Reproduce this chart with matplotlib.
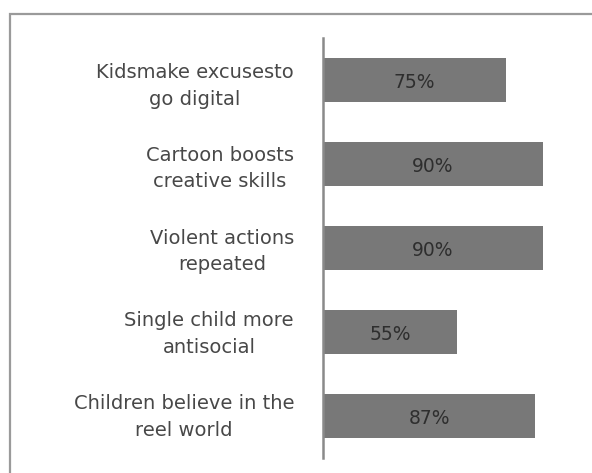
import matplotlib
matplotlib.use("Agg")
import matplotlib.pyplot as plt
from matplotlib.patches import Rectangle
from matplotlib.transforms import blended_transform_factory

categories = [
    "Kidsmake excusesto\ngo digital",
    "Cartoon boosts\ncreative skills",
    "Violent actions\nrepeated",
    "Single child more\nantisocial",
    "Children believe in the\nreel world",
]
values = [75, 90, 90, 55, 87]
value_labels = ["75%", "90%", "90%", "55%", "87%"]

fig = plt.figure(figsize=(5.92, 4.73), dpi=100)
fig.patch.set_facecolor("white")

# chart-area frame (open at the right and bottom edges of the image)
fig.patches.append(Rectangle((10 / 592, -0.1), 1.0, 1 - 14 / 473 + 0.1,
                             transform=fig.transFigure, fill=False,
                             edgecolor="#9a9a9a", linewidth=1.6, zorder=0))

ax = fig.add_axes([323 / 592, 1 - 458 / 473, 244 / 592, 420 / 473])
pos = list(range(len(categories)))
ax.barh(pos, values, height=0.52, color="#787878", edgecolor="none", zorder=2)
ax.set_xlim(0, 100)
ax.set_ylim(len(categories) - 0.5, -0.5)

for p, v, lab in zip(pos, values, value_labels):
    ax.text(v / 2, p + 0.03, lab, ha="center", va="center", fontsize=13.5,
            color="#2e2e2e", family="DejaVu Sans", zorder=3)

ax.set_yticks([])
ax.set_xticks([])
for side in ("top", "right", "bottom"):
    ax.spines[side].set_visible(False)
ax.spines["left"].set_color("#8a8a8a")
ax.spines["left"].set_linewidth(1.8)

# category labels: right-aligned block, each line centred within it
trans = blended_transform_factory(fig.transFigure, ax.transData)
for p, c in zip(pos, categories):
    fig.text(294 / 592, 0.985 * p + 0.07, c, transform=trans, ha="right",
             va="center", multialignment="center", fontsize=14,
             color="#484848", family="DejaVu Sans", linespacing=1.5)

fig.savefig("out.png", dpi=100, facecolor="white")
